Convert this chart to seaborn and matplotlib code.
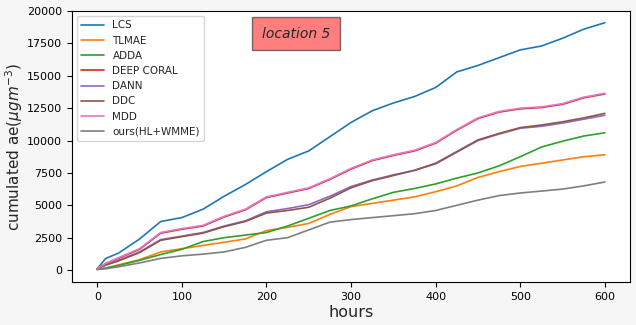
import pandas as pd
from matplotlib import pyplot as plt
import numpy as np
import seaborn as sns

hours = [0, 10, 25, 50, 75, 100, 125, 150, 175, 200, 225, 250, 275, 300,
         325, 350, 375, 400, 425, 450, 475, 500, 525, 550, 575, 600]

lcs = [100, 900, 1300, 2400, 3750, 4050, 4700, 5700, 6600, 7600, 8550, 9200, 10300, 11400,
       12300, 12900, 13400, 14100, 15300, 15800, 16400, 17000, 17300, 17900, 18600, 19100]
tlmae = [50, 150, 400, 800, 1400, 1650, 1900, 2150, 2400, 3050, 3300, 3600, 4300, 4900,
         5150, 5400, 5650, 6050, 6500, 7150, 7600, 8000, 8250, 8500, 8750, 8900]
adda = [50, 150, 350, 750, 1200, 1600, 2200, 2500, 2700, 2900, 3400, 4000, 4600, 4950,
        5500, 6000, 6300, 6650, 7100, 7500, 8050, 8750, 9500, 9950, 10350, 10600]
deep_coral = [100, 500, 900, 1600, 2850, 3150, 3400, 4100, 4650, 5600, 5950, 6300, 7000, 7800,
              8450, 8850, 9200, 9800, 10800, 11700, 12200, 12450, 12550, 12800, 13300, 13600]
dann = [100, 400, 750, 1400, 2350, 2620, 2900, 3400, 3800, 4500, 4750, 5050, 5700, 6450,
        6950, 7350, 7700, 8200, 9100, 10000, 10500, 10950, 11100, 11350, 11650, 11950]
ddc = [100, 380, 700, 1350, 2300, 2580, 2850, 3350, 3750, 4400, 4600, 4850, 5550, 6350,
       6900, 7300, 7700, 8250, 9150, 10050, 10550, 11000, 11200, 11450, 11750, 12100]
mdd = [100, 520, 950, 1650, 2900, 3200, 3450, 4150, 4700, 5650, 6000, 6350, 7050, 7850,
       8500, 8900, 9250, 9850, 10850, 11750, 12250, 12500, 12600, 12850, 13350, 13650]
ours = [50, 100, 250, 550, 900, 1100, 1230, 1400, 1750, 2300, 2500, 3100, 3700, 3900,
        4050, 4200, 4350, 4600, 5000, 5400, 5750, 5950, 6100, 6250, 6500, 6800]

names = ["LCS", "TLMAE", "ADDA", "DEEP CORAL", "DANN", "DDC", "MDD", "ours(HL+WMME)"]
series = [lcs, tlmae, adda, deep_coral, dann, ddc, mdd, ours]

df = pd.concat([pd.DataFrame({"hours": hours, "value": s, "model": n})
                for n, s in zip(names, series)], ignore_index=True)

sns.set_style("ticks")
fig = plt.figure(figsize=(6.36, 3.25), dpi=100, facecolor="#f6f6f6")
ax = fig.add_axes([0.113, 0.132, 0.878, 0.834])
sns.lineplot(data=df, x="hours", y="value", hue="model", hue_order=names,
             palette="tab10", linewidth=1.2, ax=ax)

for s in ax.spines.values():
    s.set_color("black")
    s.set_linewidth(0.8)
ax.tick_params(labelsize=8, colors="black", length=3.5)
ax.set_yticks([0, 2500, 5000, 7500, 10000, 12500, 15000, 17500, 20000])
ax.set_xticks([0, 100, 200, 300, 400, 500, 600])
ax.set_xlim(-30, 630)
ax.set_ylim(-930, 20000)
ax.set_xlabel("hours", fontsize=11.5, labelpad=2)
ax.set_ylabel(r"cumulated ae($\mu gm^{-3}$)", fontsize=11)
ax.yaxis.set_label_coords(-0.084, 0.5)

ax.legend(loc="upper left", fontsize=7.5, frameon=True, handlelength=2.2)
ax.text(235, 18250, "location 5", style="italic", fontsize=10, ha="center", va="center",
        bbox=dict(facecolor="red", alpha=0.5, pad=7, edgecolor="black"))

fig.savefig("out.png", dpi=100, facecolor=fig.get_facecolor())
